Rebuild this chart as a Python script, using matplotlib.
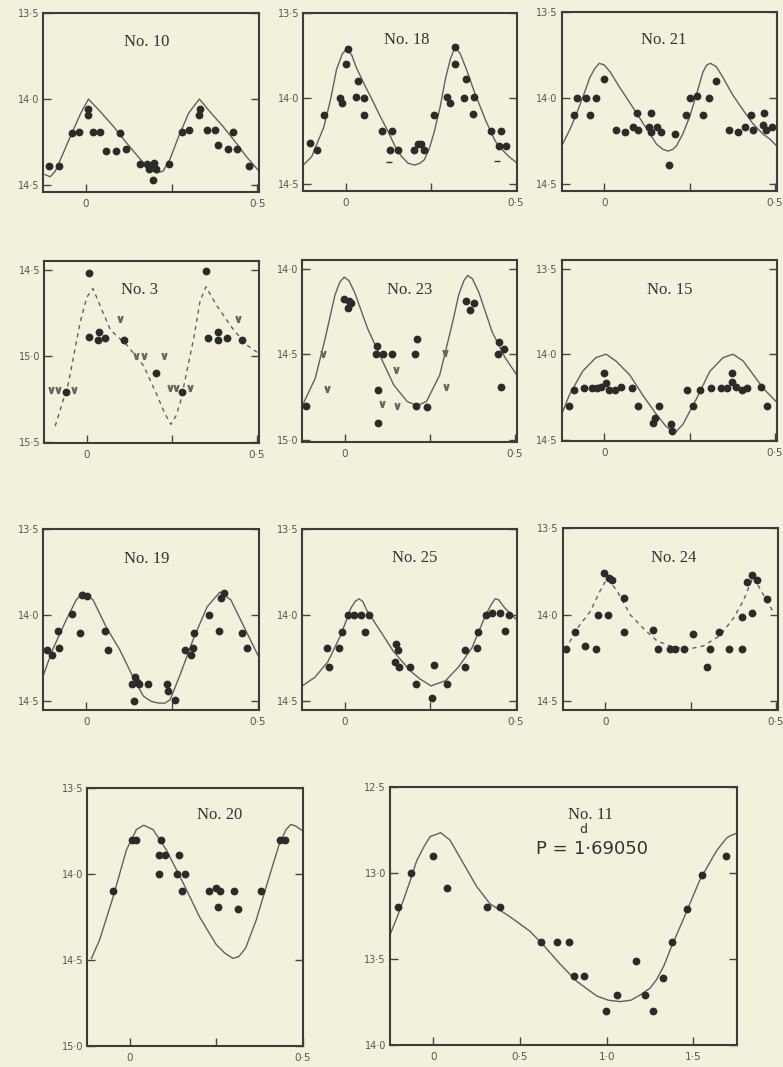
import matplotlib
matplotlib.use("Agg")
import matplotlib.pyplot as plt

W, H = 783, 1067
BG = "#f3f1dc"
INK = "#2b2b2b"
LINE = "#606060"

# ---------------- data (phase, magnitude) ----------------
# No. 10
n10_ph = [-0.107, -0.080, -0.042, -0.020, 0.005, 0.007, 0.021, 0.041, 0.099, 0.058, 0.088, 0.116,
          0.158, 0.177, 0.187, 0.198, 0.185, 0.204, 0.194, 0.243, 0.279, 0.302, 0.331, 0.333,
          0.352, 0.376, 0.430, 0.386, 0.413, 0.440, 0.477]
n10_mag = [14.39, 14.39, 14.20, 14.19, 14.09, 14.06, 14.19, 14.19, 14.20, 14.30, 14.30, 14.29,
           14.38, 14.38, 14.39, 14.37, 14.41, 14.41, 14.47, 14.38, 14.19, 14.18, 14.09, 14.06,
           14.18, 14.18, 14.19, 14.27, 14.29, 14.29, 14.39]
n10_cph = [-0.120, -0.105, -0.090, -0.070, -0.042, -0.015, 0.007, 0.040, 0.080, 0.120, 0.158,
           0.185, 0.206, 0.225, 0.245, 0.270, 0.300, 0.331, 0.360, 0.400, 0.440, 0.470, 0.505]
n10_cmag = [14.44, 14.453, 14.42, 14.33, 14.20, 14.08, 14.00, 14.07, 14.16, 14.26, 14.35,
            14.41, 14.43, 14.42, 14.35, 14.22, 14.08, 14.00, 14.07, 14.16, 14.26, 14.34, 14.42]

# No. 18
n18_ph = [-0.105, -0.084, -0.063, -0.017, -0.012, 0.007, 0.002, 0.035, 0.029, 0.054, 0.054, 0.107,
          0.135, 0.129, 0.153, 0.200, 0.212, 0.221, 0.231, 0.260, 0.298, 0.307, 0.323, 0.322,
          0.355, 0.348, 0.377, 0.374, 0.427, 0.458, 0.450, 0.471]
n18_mag = [14.26, 14.30, 14.10, 14.00, 14.03, 13.71, 13.80, 13.90, 13.99, 14.00, 14.10, 14.19,
           14.19, 14.30, 14.30, 14.30, 14.27, 14.27, 14.30, 14.10, 13.99, 14.03, 13.70, 13.80,
           13.89, 14.00, 13.99, 14.09, 14.19, 14.19, 14.28, 14.28]
n18_dash_ph = [0.126, 0.444]
n18_dash_mag = [14.375, 14.368]
n18_cph = [-0.125, -0.100, -0.065, -0.045, -0.027, -0.010, 0.004, 0.018, 0.031, 0.055, 0.078, 0.100,
           0.126, 0.145, 0.164, 0.184, 0.202, 0.218, 0.231, 0.245, 0.260, 0.278, 0.293, 0.308,
           0.322, 0.337, 0.355, 0.380, 0.412, 0.440, 0.460, 0.480, 0.505]
n18_cmag = [14.39, 14.34, 14.17, 14.01, 13.83, 13.74, 13.71, 13.75, 13.82, 13.92, 14.01, 14.10,
            14.20, 14.28, 14.34, 14.38, 14.39, 14.38, 14.36, 14.30, 14.20, 14.05, 13.89, 13.77,
            13.70, 13.74, 13.83, 13.97, 14.13, 14.25, 14.30, 14.34, 14.38]

# No. 21
n21_ph = [-0.081, -0.054, -0.024, -0.088, -0.042, 0.000, 0.034, 0.060, 0.085, 0.099, 0.096, 0.138,
          0.131, 0.138, 0.153, 0.165, 0.190, 0.208, 0.240, 0.250, 0.271, 0.306, 0.289, 0.326,
          0.365, 0.392, 0.413, 0.437, 0.430, 0.469, 0.466, 0.474, 0.491]
n21_mag = [14.00, 14.00, 14.00, 14.10, 14.10, 13.89, 14.19, 14.20, 14.17, 14.19, 14.09, 14.09,
           14.17, 14.20, 14.17, 14.20, 14.39, 14.21, 14.10, 14.00, 13.99, 14.00, 14.10, 13.90,
           14.19, 14.20, 14.17, 14.19, 14.10, 14.09, 14.16, 14.19, 14.17]
n21_cph = [-0.125, -0.100, -0.081, -0.060, -0.042, -0.028, -0.015, 0.000, 0.017, 0.045, 0.075,
           0.114, 0.153, 0.172, 0.187, 0.200, 0.211, 0.230, 0.250, 0.270, 0.289, 0.300, 0.311,
           0.328, 0.347, 0.375, 0.406, 0.435, 0.464, 0.485, 0.505]
n21_cmag = [14.28, 14.18, 14.09, 13.98, 13.88, 13.83, 13.80, 13.81, 13.85, 13.94, 14.03,
            14.15, 14.27, 14.30, 14.31, 14.30, 14.28, 14.21, 14.11, 13.98, 13.85, 13.81, 13.80,
            13.82, 13.88, 13.98, 14.07, 14.15, 14.21, 14.24, 14.28]

# No. 3 (filled dots, "v" marks, dashed curve)
n3_ph = [0.005, 0.005, 0.036, 0.034, 0.054, 0.110, -0.062, 0.204, 0.281, 0.351, 0.355, 0.385,
         0.385, 0.412, 0.456]
n3_mag = [14.52, 14.89, 14.86, 14.91, 14.90, 14.91, 15.21, 15.10, 15.21, 14.51, 14.90, 14.86,
          14.91, 14.90, 14.91]
n3_v_ph = [0.096, 0.145, 0.169, 0.228, -0.106, -0.086, -0.039, 0.243, 0.261, 0.304, 0.444]
n3_v_mag = [14.79, 15.00, 15.00, 15.00, 15.20, 15.20, 15.20, 15.19, 15.19, 15.19, 14.79]
n3_cph = [-0.093, -0.054, -0.020, 0.000, 0.018, 0.039, 0.069, 0.118, 0.167, 0.206, 0.230, 0.247,
          0.262, 0.275, 0.314, 0.333, 0.350, 0.382, 0.431, 0.471, 0.500]
n3_cmag = [15.41, 15.16, 14.81, 14.66, 14.61, 14.71, 14.85, 14.94, 15.06, 15.23, 15.34, 15.40,
           15.35, 15.27, 14.90, 14.68, 14.60, 14.71, 14.85, 14.94, 14.98]

# No. 23
n23_ph = [-0.113, -0.002, 0.012, 0.019, 0.008, 0.094, 0.091, 0.113, 0.139, 0.096, 0.098, 0.212,
          0.205, 0.209, 0.240, 0.356, 0.380, 0.367, 0.454, 0.469, 0.449, 0.460]
n23_mag = [14.80, 14.18, 14.19, 14.20, 14.23, 14.45, 14.50, 14.50, 14.50, 14.71, 14.90, 14.41,
           14.50, 14.80, 14.81, 14.19, 14.20, 14.24, 14.43, 14.47, 14.50, 14.69]
n23_v_ph = [-0.063, -0.053, 0.149, 0.108, 0.152, 0.293, 0.298]
n23_v_mag = [14.50, 14.70, 14.59, 14.79, 14.80, 14.49, 14.69]
n23_cph = [-0.125, -0.087, -0.058, -0.040, -0.029, -0.015, -0.002, 0.012, 0.029, 0.067, 0.106,
           0.144, 0.183, 0.212, 0.240, 0.279, 0.317, 0.335, 0.350, 0.361, 0.375, 0.394, 0.433,
           0.471, 0.505]
n23_cmag = [14.80, 14.64, 14.41, 14.25, 14.155, 14.08, 14.05, 14.07, 14.14, 14.35, 14.52,
            14.68, 14.775, 14.80, 14.775, 14.62, 14.31, 14.15, 14.07, 14.04, 14.06, 14.14, 14.37,
            14.52, 14.62]

# No. 15
n15_ph = [-0.103, -0.088, -0.059, -0.036, -0.023, -0.002, -0.010, 0.005, 0.015, 0.032, 0.049,
          0.081, 0.098, 0.160, 0.147, 0.142, 0.196, 0.199, 0.243, 0.260, 0.281, 0.312, 0.343,
          0.358, 0.375, 0.375, 0.387, 0.402, 0.417, 0.458, 0.478]
n15_mag = [14.30, 14.21, 14.20, 14.20, 14.20, 14.11, 14.19, 14.17, 14.21, 14.21, 14.19, 14.20,
           14.30, 14.30, 14.37, 14.40, 14.41, 14.45, 14.21, 14.30, 14.21, 14.20, 14.20, 14.20,
           14.11, 14.16, 14.19, 14.21, 14.20, 14.19, 14.30]
n15_cph = [-0.127, -0.103, -0.064, -0.025, 0.005, 0.034, 0.074, 0.113, 0.152, 0.180, 0.206,
           0.230, 0.270, 0.309, 0.348, 0.377, 0.407, 0.466, 0.505]
n15_cmag = [14.36, 14.24, 14.10, 14.02, 14.00, 14.04, 14.12, 14.24, 14.35, 14.42, 14.46,
            14.41, 14.26, 14.10, 14.02, 14.00, 14.04, 14.20, 14.28]

# No. 19
n19_ph = [-0.115, -0.100, -0.083, -0.078, -0.041, -0.012, 0.002, -0.017, 0.054, 0.064, 0.142, 0.147,
          0.135, 0.155, 0.181, 0.140, 0.235, 0.240, 0.260, 0.289, 0.306, 0.314, 0.312, 0.358,
          0.387, 0.392, 0.402, 0.456, 0.469]
n19_mag = [14.20, 14.23, 14.09, 14.19, 13.99, 13.88, 13.89, 14.10, 14.09, 14.20, 14.36, 14.39,
           14.40, 14.40, 14.40, 14.50, 14.40, 14.44, 14.49, 14.20, 14.23, 14.10, 14.19, 14.00,
           14.09, 13.90, 13.87, 14.10, 14.19]
n19_cph = [-0.127, -0.098, -0.059, -0.029, -0.008, 0.020, 0.059, 0.098, 0.137, 0.167, 0.190,
           0.211, 0.230, 0.245, 0.275, 0.314, 0.353, 0.390, 0.422, 0.471, 0.508]
n19_cmag = [14.36, 14.20, 14.03, 13.91, 13.865, 13.91, 14.07, 14.20, 14.36, 14.47, 14.50,
            14.51, 14.51, 14.49, 14.34, 14.13, 13.95, 13.865, 13.91, 14.11, 14.26]

# No. 25
n25_ph = [-0.052, -0.048, -0.016, -0.010, 0.008, 0.027, 0.048, 0.070, 0.058, 0.149, 0.154, 0.147,
          0.158, 0.190, 0.207, 0.261, 0.254, 0.300, 0.352, 0.352, 0.386, 0.389, 0.413, 0.432,
          0.453, 0.482, 0.470]
n25_mag = [14.19, 14.30, 14.19, 14.10, 14.00, 14.00, 14.00, 14.00, 14.10, 14.17, 14.20, 14.27,
           14.30, 14.30, 14.40, 14.29, 14.48, 14.40, 14.20, 14.30, 14.19, 14.10, 14.00, 13.99,
           13.99, 14.00, 14.09]
n25_cph = [-0.125, -0.088, -0.050, -0.011, 0.017, 0.030, 0.041, 0.052, 0.065, 0.103, 0.142,
           0.190, 0.220, 0.252, 0.295, 0.333, 0.372, 0.410, 0.428, 0.440, 0.450, 0.467, 0.505]
n25_cmag = [14.41, 14.36, 14.27, 14.11, 13.96, 13.92, 13.905, 13.92, 13.975, 14.09, 14.21,
            14.32, 14.37, 14.41, 14.38, 14.30, 14.19, 14.01, 13.94, 13.905, 13.91, 13.955, 14.03]

# No. 24 (dashed curve)
n24_ph = [-0.114, -0.089, -0.061, -0.028, -0.021, 0.008, -0.005, 0.010, 0.019, 0.055, 0.055,
          0.139, 0.153, 0.190, 0.204, 0.231, 0.258, 0.306, 0.297, 0.333, 0.362, 0.401, 0.399,
          0.431, 0.415, 0.431, 0.445, 0.475]
n24_mag = [14.20, 14.10, 14.18, 14.20, 14.00, 14.00, 13.76, 13.79, 13.80, 13.90, 14.10, 14.09,
           14.20, 14.20, 14.20, 14.20, 14.11, 14.20, 14.30, 14.10, 14.20, 14.20, 14.01, 13.99,
           13.81, 13.77, 13.80, 13.91]
n24_cph = [-0.117, -0.083, -0.044, -0.015, 0.005, 0.034, 0.073, 0.112, 0.151, 0.190, 0.238,
           0.287, 0.336, 0.375, 0.404, 0.433, 0.462, 0.491]
n24_cmag = [14.20, 14.08, 13.98, 13.86, 13.79, 13.86, 14.00, 14.08, 14.15, 14.18, 14.20,
            14.18, 14.12, 14.02, 13.92, 13.78, 13.88, 13.98]

# No. 20
n20_ph = [-0.048, 0.005, 0.017, 0.089, 0.083, 0.101, 0.142, 0.085, 0.137, 0.159, 0.152, 0.229,
          0.248, 0.262, 0.255, 0.300, 0.313, 0.378, 0.433, 0.450]
n20_mag = [14.10, 13.80, 13.80, 13.80, 13.89, 13.89, 13.89, 14.00, 14.00, 14.00, 14.10, 14.10,
           14.08, 14.10, 14.19, 14.10, 14.20, 14.10, 13.80, 13.80]
n20_cph = [-0.111, -0.087, -0.048, -0.010, 0.019, 0.040, 0.067, 0.106, 0.154, 0.202, 0.250,
           0.275, 0.298, 0.315, 0.335, 0.365, 0.404, 0.433, 0.452, 0.466, 0.480, 0.498]
n20_cmag = [14.49, 14.38, 14.13, 13.86, 13.74, 13.715, 13.74, 13.86, 14.05, 14.25, 14.41,
            14.46, 14.49, 14.48, 14.43, 14.27, 14.01, 13.82, 13.74, 13.71, 13.72, 13.745]

# No. 11 (x in days)
n11_ph = [-0.202, -0.129, 0.000, 0.077, 0.312, 0.385, 0.621, 0.715, 0.781, 0.813, 0.869, 0.996,
          1.062, 1.167, 1.221, 1.269, 1.323, 1.379, 1.465, 1.548, 1.688]
n11_mag = [13.20, 13.00, 12.90, 13.09, 13.20, 13.20, 13.40, 13.40, 13.40, 13.60, 13.60, 13.80,
           13.71, 13.51, 13.71, 13.80, 13.61, 13.40, 13.21, 13.01, 12.90]
n11_cph = [-0.246, -0.210, -0.173, -0.135, -0.096, -0.055, -0.019, 0.042, 0.096, 0.173, 0.250,
           0.327, 0.442, 0.558, 0.635, 0.731, 0.827, 0.942, 1.010, 1.077, 1.140, 1.192, 1.250,
           1.288, 1.330, 1.365, 1.442, 1.538, 1.635, 1.690, 1.712, 1.750]
n11_cmag = [13.35, 13.26, 13.16, 13.05, 12.93, 12.85, 12.79, 12.767, 12.81, 12.945, 13.08,
            13.18, 13.255, 13.34, 13.42, 13.53, 13.63, 13.715, 13.74, 13.748, 13.74, 13.71, 13.67,
            13.62, 13.54, 13.45, 13.27, 13.04, 12.87, 12.80, 12.785, 12.77]

# ---------------- layout ----------------
fig = plt.figure(figsize=(W / 100, H / 100), dpi=100, facecolor=BG)


def panel(l, r, t, b, xlim, ylim, yticks, xticks, xlabels):
    ax = fig.add_axes([l / W, 1 - b / H, (r - l) / W, (b - t) / H])
    ax.set_facecolor(BG)
    ax.set_xlim(*xlim)
    ax.set_ylim(*ylim)
    for s in ax.spines.values():
        s.set_color("#3c3c3c")
        s.set_linewidth(1.5)
    ax.set_yticks(yticks)
    ax.set_yticklabels([f"{v:.1f}".replace(".", "·") for v in yticks],
                       fontsize=7, color="#555555", family="DejaVu Sans")
    ax.set_xticks(xticks)
    ax.set_xticklabels(xlabels, fontsize=7.5, color="#555555", family="DejaVu Sans")
    ax.tick_params(axis="y", direction="in", length=6, width=1.0, color="#444444",
                   left=True, right=True, pad=3)
    ax.tick_params(axis="x", direction="in", length=6, width=1.0, color="#444444", pad=5)
    return ax


def title(ax, txt, x, y, size=12, ha="center", family="Liberation Serif"):
    ax.text(x, y, txt, transform=ax.transAxes, ha=ha, va="center",
            fontsize=size, color="#333333", family=family)


def dots(ax, ph, mag):
    ax.plot(ph, mag, "o", ms=4.6, color=INK, mec=INK, zorder=3)


def vees(ax, ph, mag):
    ax.plot(ph, mag, ls="none", marker=r"$\vee$", ms=4.2, color="#666666", zorder=3)


def curve(ax, ph, mag, dashed=False):
    ax.plot(ph, mag, color=LINE, lw=1.0, ls=(0, (3, 3)) if dashed else "-", zorder=2)


SX = [0, 0.25, 0.5]
SXL = ["0", "", "0·5"]
XL = (-0.125, 0.505)

# row 1
ax = panel(43.3, 259, 13.3, 191.7, XL, (14.54, 13.5), [13.5, 14.0, 14.5], SX, SXL)
dots(ax, n10_ph, n10_mag); curve(ax, n10_cph, n10_cmag); title(ax, "No. 10", 0.48, 0.84)

ax = panel(303.3, 517.3, 12.7, 190.7, XL, (14.54, 13.5), [13.5, 14.0, 14.5], SX, SXL)
dots(ax, n18_ph, n18_mag); curve(ax, n18_cph, n18_cmag); title(ax, "No. 18", 0.483, 0.847)
ax.plot(n18_dash_ph, n18_dash_mag, ls="none", marker="_", ms=4, color="#333333")

ax = panel(561.7, 776.7, 11.7, 190.7, XL, (14.54, 13.5), [13.5, 14.0, 14.5], SX, SXL)
dots(ax, n21_ph, n21_mag); curve(ax, n21_cph, n21_cmag); title(ax, "No. 21", 0.473, 0.842)

# row 2
ax = panel(44.3, 258.7, 261, 443.3, XL, (15.51, 14.45), [14.5, 15.0, 15.5], SX, SXL)
dots(ax, n3_ph, n3_mag); vees(ax, n3_v_ph, n3_v_mag); curve(ax, n3_cph, n3_cmag, dashed=True)
title(ax, "No. 3", 0.446, 0.84)

ax = panel(302.3, 516.7, 260, 441.7, XL, (15.01, 13.95), [14.0, 14.5, 15.0], SX, SXL)
dots(ax, n23_ph, n23_mag); vees(ax, n23_v_ph, n23_v_mag); curve(ax, n23_cph, n23_cmag)
title(ax, "No. 23", 0.502, 0.835)

ax = panel(561.7, 776.7, 260, 440.7, XL, (14.505, 13.45), [13.5, 14.0, 14.5], SX, SXL)
dots(ax, n15_ph, n15_mag); curve(ax, n15_cph, n15_cmag); title(ax, "No. 15", 0.504, 0.834)

# row 3
ax = panel(43.3, 259.3, 529.3, 710, XL, (14.55, 13.5), [13.5, 14.0, 14.5], SX, SXL)
dots(ax, n19_ph, n19_mag); curve(ax, n19_cph, n19_cmag); title(ax, "No. 19", 0.48, 0.834)

ax = panel(302.3, 517.3, 529, 710, XL, (14.55, 13.5), [13.5, 14.0, 14.5], SX, SXL)
dots(ax, n25_ph, n25_mag); curve(ax, n25_cph, n25_cmag); title(ax, "No. 25", 0.524, 0.842)

ax = panel(562.7, 777.7, 528.3, 710, XL, (14.55, 13.5), [13.5, 14.0, 14.5], SX, SXL)
dots(ax, n24_ph, n24_mag); curve(ax, n24_cph, n24_cmag, dashed=True)
title(ax, "No. 24", 0.514, 0.839)

# row 4
ax = panel(87.3, 302.7, 788.3, 1046, (-0.123, 0.5), (15.0, 13.5), [13.5, 14.0, 14.5, 15.0], SX, SXL)
dots(ax, n20_ph, n20_mag); curve(ax, n20_cph, n20_cmag); title(ax, "No. 20", 0.616, 0.896)

ax = panel(390, 736.7, 786.7, 1045, (-0.25, 1.75), (14.0, 12.5), [12.5, 13.0, 13.5, 14.0],
           [0, 0.5, 1.0, 1.5], ["0", "0·5", "1·0", "1·5"])
dots(ax, n11_ph, n11_mag); curve(ax, n11_cph, n11_cmag); title(ax, "No. 11", 0.577, 0.89)
title(ax, "P =", 0.467, 0.758, size=13, family="DejaVu Sans")
title(ax, "1·69050", 0.530, 0.758, size=13, ha="left", family="DejaVu Sans")
title(ax, "d", 0.556, 0.835, size=9, family="DejaVu Sans")

fig.savefig("out.png", dpi=100, facecolor=BG)
